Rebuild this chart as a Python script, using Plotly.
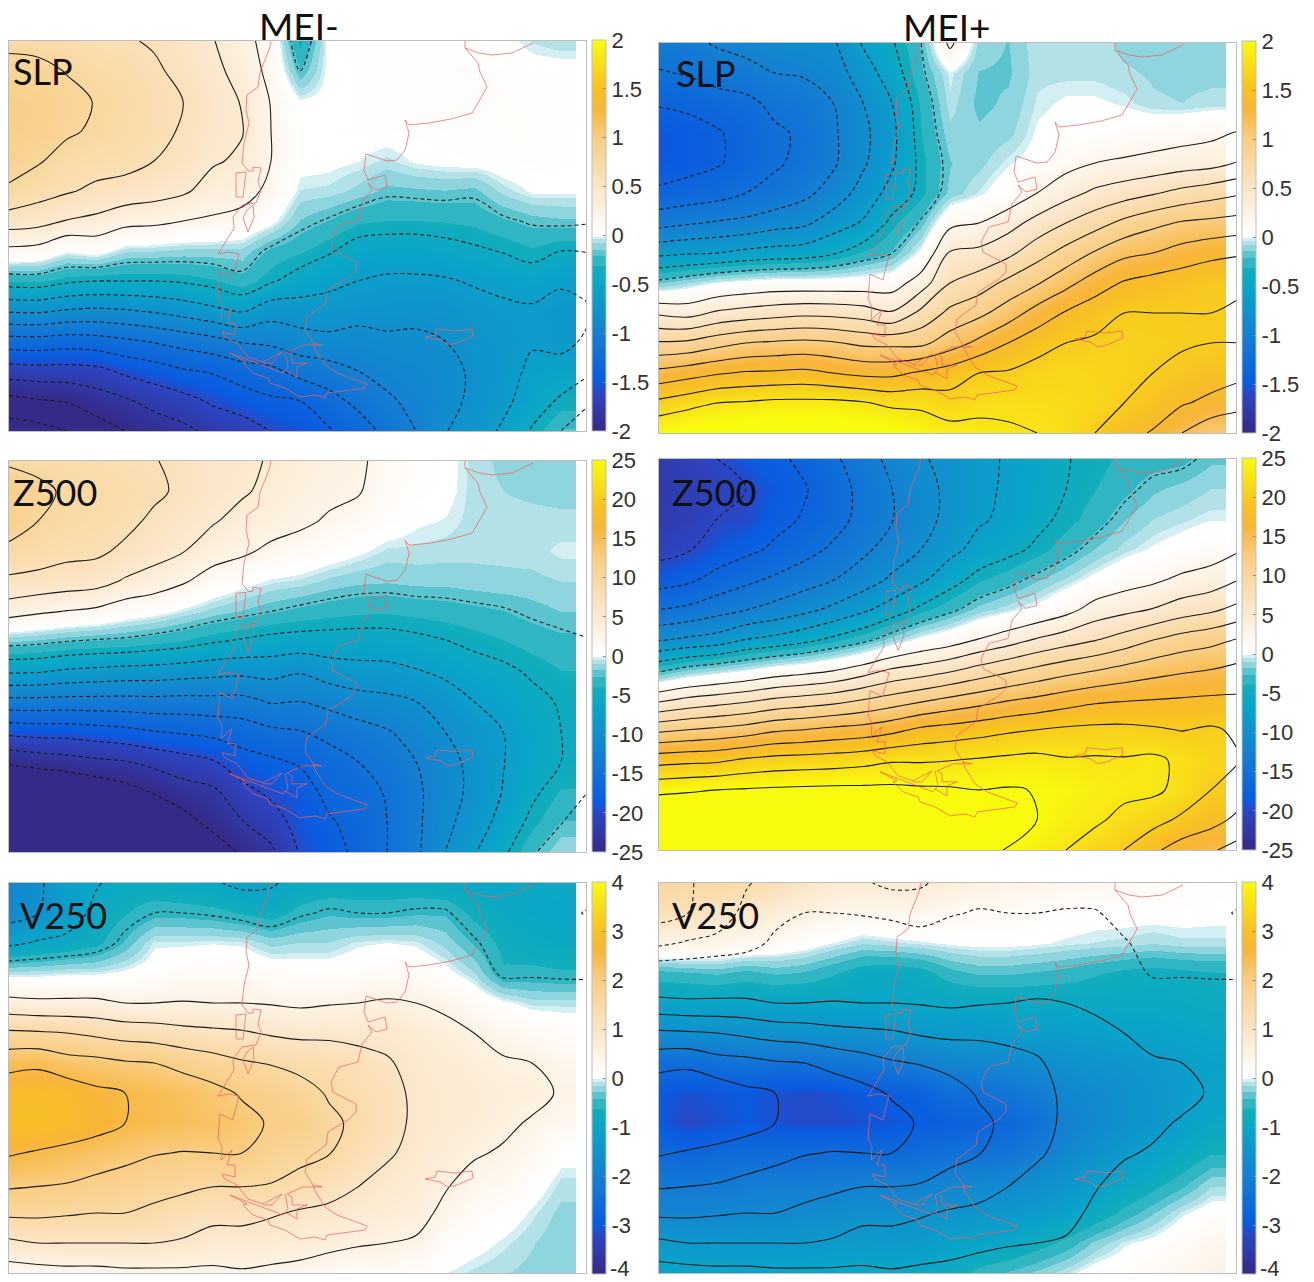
import numpy as np
import plotly.graph_objects as go

# grid positions (map units), columns west to east, rows north to south
grid_x = [9,38,67,96,125,154,183,213,242,271,300,329,358,387,416,445,474,503,532,561,590]
grid_y = [41,71,101,131,161,191,221,251,281,311,341,371,401,431]

slp_minus = [
[.75,.87,.94,.94,.88,.77,.5,.15,-.31,-.78,-1.28,-1.7,-2.07,-2.3],
[.73,.86,.93,.92,.82,.68,.47,.13,-.3,-.77,-1.27,-1.68,-2.02,-2.27],
[.7,.79,.86,.83,.72,.62,.39,0,-.37,-.82,-1.3,-1.68,-1.99,-2.2],
[.65,.73,.79,.77,.68,.56,.35,.05,-.4,-.84,-1.28,-1.66,-1.9,-2.1],
[.62,.7,.74,.72,.67,.52,.27,-.07,-.4,-.82,-1.23,-1.56,-1.83,-2.0],
[.58,.63,.67,.66,.6,.48,.25,-.08,-.4,-.78,-1.18,-1.5,-1.73,-1.93],
[.5,.55,.6,.58,.53,.43,.2,-.1,-.38,-.72,-1.12,-1.42,-1.67,-1.85],
[.41,.45,.48,.47,.42,.32,.17,-.1,-.33,-.65,-1.06,-1.38,-1.57,-1.75],
[.27,.33,.39,.41,.37,.28,.13,-.1,-.25,-.58,-.98,-1.3,-1.5,-1.7],
[.12,.14,.19,.2,.2,.15,.02,-.24,-.38,-.72,-.95,-1.25,-1.43,-1.6],
[-.35,-.2,0,.02,.02,-.04,-.15,-.3,-.48,-.7,-.88,-1.13,-1.4,-1.54],
[.03,.02,.02,.03,.01,-.05,-.22,-.38,-.55,-.69,-.85,-1.08,-1.27,-1.42],
[.04,.03,.03,.03,-.01,-.1,-.3,-.48,-.6,-.72,-.88,-1.0,-1.15,-1.3],
[.04,.04,.04,.03,-.05,-.17,-.32,-.5,-.63,-.72,-.84,-.94,-1.03,-1.15],
[.04,.05,.05,.04,0,-.16,-.32,-.5,-.63,-.74,-.84,-.9,-.95,-1.0],
[.04,.05,.05,.05,.02,-.15,-.31,-.47,-.62,-.73,-.8,-.86,-.86,-.81],
[.03,.05,.05,.05,.03,-.17,-.29,-.43,-.58,-.68,-.74,-.77,-.76,-.7],
[.02,.05,.06,.06,.05,-.06,-.23,-.39,-.55,-.64,-.68,-.68,-.65,-.57],
[-.04,.03,.05,.06,.05,0,-.18,-.33,-.51,-.63,-.62,-.56,-.5,-.38],
[-.07,.03,.05,.05,.04,0,-.16,-.4,-.57,-.68,-.66,-.52,-.37,-.2],
[-.05,.03,.05,.05,.03,0,-.18,-.39,-.53,-.62,-.56,-.43,-.22,-.05],
]

slp_plus = [
[-1.07,-1.22,-1.38,-1.53,-1.52,-1.36,-1.07,-.65,-.15,.37,.82,1.26,1.65,2],
[-1.05,-1.18,-1.36,-1.47,-1.47,-1.32,-1.02,-.62,-.08,.33,.84,1.32,1.72,2.08],
[-.98,-1.1,-1.3,-1.42,-1.42,-1.28,-.98,-.6,0,.43,.93,1.38,1.8,2.12],
[-.92,-1.08,-1.25,-1.33,-1.33,-1.2,-.95,-.55,.04,.48,1.0,1.42,1.82,2.15],
[-.88,-1.0,-1.15,-1.23,-1.22,-1.15,-.88,-.52,.07,.52,1.03,1.43,1.85,2.15],
[-.85,-.98,-1.1,-1.17,-1.16,-1.05,-.84,-.5,.07,.55,1.05,1.45,1.85,2.15],
[-.83,-.9,-1.0,-1.03,-1.03,-.92,-.7,-.42,.07,.54,1.02,1.4,1.85,2.15],
[-.58,-.7,-.8,-.85,-.83,-.72,-.58,-.3,.08,.5,.96,1.35,1.82,2.1],
[-.42,-.5,-.6,-.65,-.63,-.53,-.35,-.2,.1,.42,.95,1.35,1.75,2.05],
[-.2,-.23,-.3,-.32,-.35,-.35,-.18,.02,.3,.65,.95,1.43,1.75,1.95],
[.25,-.02,-.05,-.1,-.15,-.12,.15,.42,.6,.85,1.1,1.5,1.68,1.88],
[-.1,-.15,-.17,-.13,-.1,-.03,.2,.45,.7,.95,1.25,1.6,1.75,1.85],
[-.15,-.16,-.13,-.1,-.02,.06,.32,.55,.85,1.1,1.4,1.62,1.75,1.83],
[-.04,-.05,-.03,0,.03,.2,.47,.72,.98,1.28,1.52,1.68,1.75,1.8],
[-.04,-.05,0,.03,.13,.33,.6,.87,1.14,1.42,1.6,1.7,1.73,1.75],
[-.04,-.05,0,.05,.2,.44,.72,1.02,1.3,1.52,1.63,1.68,1.7,1.6],
[-.1,-.07,-.02,.07,.23,.51,.85,1.15,1.42,1.6,1.65,1.66,1.6,1.48],
[-.1,-.09,-.07,.1,.26,.58,.95,1.2,1.48,1.6,1.63,1.6,1.53,1.38],
[-.1,-.1,-.08,.12,.3,.66,1.02,1.28,1.52,1.6,1.62,1.55,1.42,1.2],
[-.1,-.1,-.06,.15,.33,.72,1.05,1.34,1.57,1.6,1.6,1.5,1.35,1.05],
[-.08,-.08,-.04,.22,.42,.78,1.08,1.38,1.58,1.62,1.6,1.45,1.28,1.0],
]

z500_minus = [
[9.5,12,11.5,9.3,7,3.6,-1.7,-7.2,-13.3,-19.3,-24.6,-29,-33,-35],
[9,10.8,10,8.8,6.7,2.9,-2,-7.3,-13.3,-19,-24,-28.5,-32,-34.5],
[8.8,9.5,9.3,8.2,6.3,2.4,-2.5,-7.9,-13.4,-19,-23.5,-28,-31,-33.5],
[8.3,9,8.8,8,6,2,-2.8,-8.2,-13.4,-18.6,-23,-27,-30,-32.5],
[7.9,8.5,8.2,7,4.7,1,-3,-8.5,-13.4,-18.2,-22.6,-26,-29,-31.5],
[7.6,8,7,6,3.9,.5,-3.5,-8.6,-13.3,-17.6,-21.8,-24.8,-27.5,-30],
[7,7,6,5.1,2.8,-.4,-4,-8.9,-13.4,-17.2,-21,-23.6,-26,-28],
[6,5.8,5.2,3.7,1.3,-1.3,-4.8,-9.2,-13.3,-16.8,-20.2,-23,-24.2,-26.5],
[5.5,5.3,4.2,3,.4,-1.9,-5.3,-9.4,-13.3,-16.3,-18.5,-20.8,-22.6,-24.7],
[4.8,4.4,3.7,1.9,-.3,-2.5,-5.8,-9.2,-12.3,-15.5,-17.9,-19.5,-21.2,-23],
[4,3.7,3,1.4,-.6,-3,-6,-9.8,-12.5,-15.1,-17.2,-18.8,-19,-19.8],
[3.4,3.1,2.2,.7,-1.2,-3.4,-6,-8.8,-11.8,-14.3,-16,-16.7,-17.8,-18.4],
[3,2.7,1.6,.1,-1.6,-3.7,-6,-8.4,-11,-13.5,-15,-16,-16.6,-17],
[1.5,1.3,.7,-.6,-1.7,-3.8,-5.9,-8.3,-10.6,-12.7,-14,-14.8,-15,-15],
[.8,.6,0,-.6,-1.5,-3.5,-5.6,-7.7,-10,-11.5,-12.5,-13,-13,-13],
[.3,.2,-.2,-.7,-1.5,-3.3,-5.1,-7,-8.8,-10,-11,-11,-10.7,-10],
[-.7,-.7,-.7,-.8,-1.3,-3,-4.5,-6,-7.5,-8.7,-9.2,-9.4,-8.7,-7.7],
[-1.2,-1,-.7,-.8,-1.2,-2.7,-4,-5.5,-6.6,-7.5,-7.6,-7.4,-6.7,-5.5],
[-1.5,-1.2,-.7,-.7,-1.2,-2.2,-3.4,-4.7,-5.6,-6.1,-6,-5.5,-4.4,-2.8],
[-1.5,-1.3,-.8,-.3,-1,-1.8,-3,-4,-4.8,-5,-5,-3.8,-2.6,-1],
[-1.5,-1.3,-.8,-.3,-.9,-1.6,-2.6,-3.5,-4,-4.2,-3.5,-2.4,-1.5,-.5],
]

z500_plus = [
[-21.5,-22,-21.7,-20.8,-18.7,-15,-10.3,-3.1,4.4,11.9,19,24.4,28,30],
[-20.8,-21.5,-21.2,-20.2,-18,-14.5,-9.6,-1.8,5.5,12.5,19.3,24.7,28,30],
[-20,-20.8,-20,-19,-16.7,-13.5,-9,-1,6.2,13,19.5,25,28.5,30],
[-18.8,-20,-19.8,-18.1,-15.6,-12.6,-7.5,-.2,6.9,13.6,20.3,25.2,29,30],
[-18,-18.8,-18.2,-17.1,-14.6,-11.7,-6.8,.8,7.8,14.6,20.8,25.4,29,30],
[-17,-17.7,-17.3,-15.9,-13.6,-10.7,-5.8,1.4,8.4,15,21,25.5,29,30],
[-15.5,-16.3,-16,-14.6,-12.6,-9.5,-4.5,2.2,9,15.6,21.2,25.6,29,30],
[-13.5,-14.2,-14.2,-13,-11.3,-8,-3.2,3.6,10,16,21.6,25.6,29,30],
[-11.9,-12.5,-12.6,-11.5,-9.6,-6.4,-1.4,5.2,11,16.8,22.2,25.6,29,30],
[-10.3,-10.8,-10.9,-10,-8,-4.5,.2,6,12,18,22.2,25.4,29,30],
[-9.2,-9.5,-9.3,-8.2,-6,-3,1.2,7,13,18.5,22.4,25.3,28.5,30],
[-8,-8,-7.8,-6.7,-4.2,-1.5,2.6,8.3,13.9,19,22.7,25,27.8,26],
[-7.3,-7.2,-7,-5.7,-3.2,-.6,3.8,9.4,14.8,19.6,23,25.2,27,24.8],
[-6.3,-6,-5.6,-4.6,-2,.3,5.2,10.5,15.5,20,23.2,24.9,25,23.5],
[-5.1,-5,-4.5,-3.2,-.9,1.6,6.3,11.5,16.3,20.4,22.7,24.4,23.5,22.5],
[-4.5,-4,-3.3,-1.8,.3,3.5,7.3,12.3,17,20.6,22.8,23.7,23,21],
[-3.6,-3,-1.9,-.7,1.3,4.3,8.5,13.2,17.3,20.6,22.7,23.2,21.7,20],
[-3.2,-2,-1,0,2,5.1,9.9,14,17.5,20.3,23,23,20.9,18],
[-3,-1.5,-.6,.5,3,6.2,11,14.6,17.7,19.9,22,21.8,19.5,16.3],
[-2,-1,-.2,1.2,3.6,7,11.7,15,17.9,20.3,21,20,18.4,15.3],
[-1.6,-.7,.2,2.3,5,8.3,12.7,15.7,17.9,19.6,20.1,18.7,16.8,14],
]

v250_minus = [
[-1.9,-1.7,-1.1,-.1,.65,1.58,2.35,2.8,2.95,2.55,2.1,1.6,.9,.25],
[-1.6,-1.5,-.95,-.1,.6,1.55,2.4,2.85,2.95,2.45,2.05,1.6,1,.3],
[-1.1,-1.3,-.85,-.05,.6,1.5,2.2,2.8,2.85,2.35,2,1.55,1,.35],
[-1.05,-.85,-.7,-.05,.6,1.4,2.15,2.6,2.7,2.25,1.9,1.5,1,.35],
[-.8,-.65,-.4,.02,.5,1.3,2.05,2.5,2.5,2.15,1.8,1.5,1,.4],
[-.8,-.5,-.05,.1,.5,1.25,2,2.4,2.42,2.03,1.7,1.4,1,.4],
[-.9,-.5,-.05,.2,.52,1.15,1.85,2.3,2.35,1.98,1.65,1.25,.95,.4],
[-.95,-.55,-.03,.2,.5,1.1,1.7,2.15,2.25,2.0,1.55,1.15,.8,.4],
[-1.1,-.65,-.05,.2,.5,1.05,1.55,1.95,2.15,2,1.55,1.15,.8,.45],
[-1.05,-.75,-.2,.15,.47,.95,1.47,1.87,1.95,1.75,1.5,1.05,.75,.4],
[-.85,-.55,-.15,.1,.42,.9,1.35,1.7,1.9,1.65,1.35,.95,.7,.35],
[-.8,-.45,-.15,.1,.47,.9,1.3,1.45,1.6,1.52,1.2,.9,.62,.25],
[-.8,-.5,-.05,.15,.5,.85,1.2,1.3,1.4,1.25,1.03,.8,.55,.15],
[-.8,-.5,-.02,.2,.55,.85,1.05,1.18,1.2,1.07,.85,.7,.5,.2],
[-.8,-.45,-.05,.18,.5,.75,.85,.9,.9,.85,.75,.65,.45,.12],
[-.85,-.45,-.2,.05,.4,.65,.75,.8,.8,.7,.55,.4,.15,-.02],
[-.95,-.7,-.45,-.15,.2,.5,.68,.75,.72,.55,.35,.2,.05,-.1],
[-.95,-.85,-.7,-.6,.03,.35,.55,.65,.6,.45,.3,.1,-.05,-.15],
[-.95,-.95,-.8,-.57,-.1,.25,.5,.65,.45,.3,.1,-.05,-.15,-.2],
[-.9,-.95,-.85,-.6,-.1,.15,.38,.45,.3,.05,-.1,-.2,-.25,-.2],
[-.9,-1.02,-.85,-.6,-.15,.12,.25,.3,.15,0,-.15,-.25,-.25,-.2],
]

v250_plus = [
[1.6,1.2,.45,-.5,-1.0,-1.6,-2.5,-3.0,-3.0,-2.6,-2.2,-1.85,-1.35,-1.0],
[1.5,1.15,.45,-.45,-1,-1.6,-2.5,-3.1,-3.2,-2.7,-2.2,-1.85,-1.35,-1],
[1.5,1,.4,-.4,-1,-1.6,-2.4,-3.05,-3.1,-2.6,-2.2,-1.85,-1.35,-1],
[1.4,.9,.3,-.5,-1,-1.55,-2.35,-3,-3,-2.55,-2.1,-1.8,-1.35,-1],
[1.3,.7,.2,-.4,-1,-1.5,-2.4,-3.1,-3.1,-2.55,-2.1,-1.75,-1.35,-1],
[1,.55,.1,-.45,-1,-1.5,-2.4,-3.15,-3.15,-2.55,-2.1,-1.7,-1.35,-1],
[.8,.4,-.03,-.6,-1,-1.5,-2.3,-3.1,-3.15,-2.5,-2.05,-1.65,-1.3,-.95],
[.8,.3,-.15,-.8,-1,-1.5,-2.2,-3,-3.1,-2.55,-2,-1.6,-1.25,-.95],
[.8,.35,-.1,-.85,-1,-1.4,-2.15,-2.9,-3.05,-2.6,-2,-1.6,-1.3,-.95],
[.8,.35,-.05,-.75,-.95,-1.35,-2,-2.8,-2.95,-2.5,-2,-1.55,-1.25,-.9],
[.65,.25,0,-.5,-.95,-1.3,-1.85,-2.5,-2.85,-2.4,-1.9,-1.45,-1.1,-.8],
[.5,.2,.03,-.4,-.9,-1.3,-1.8,-2.4,-2.75,-2.4,-1.8,-1.4,-1,-.55],
[.45,.2,.03,-.4,-.9,-1.25,-1.75,-2.3,-2.65,-2.3,-1.75,-1.35,-.95,-.4],
[.4,.15,0,-.45,-.9,-1.2,-1.65,-2.1,-2.4,-2.1,-1.6,-1.25,-.75,-.25],
[.35,.1,-.05,-.5,-.9,-1.2,-1.55,-1.85,-2,-1.8,-1.45,-1.1,-.55,-.08],
[.3,.05,-.08,-.6,-.9,-1.15,-1.45,-1.7,-1.8,-1.55,-1.2,-.85,-.25,.1],
[.25,.05,-.1,-.7,-.85,-1.1,-1.4,-1.55,-1.55,-1.3,-1,-.55,-.05,.15],
[.2,.05,-.15,-.75,-.85,-1.1,-1.3,-1.4,-1.4,-1.1,-.75,-.3,.05,.25],
[.15,.05,-.1,-.7,-.85,-1,-1.2,-1.25,-1.15,-.9,-.5,-.05,.2,.35],
[.1,.03,-.1,-.65,-.8,-.95,-1.1,-1.05,-.95,-.65,-.2,.1,.35,.45],
[.1,.03,-.1,-.6,-.75,-.9,-1,-.95,-.85,-.5,-.1,.2,.4,.5],
]

# coastline, map units; None separates the pieces
coast_lon = [271,269,260,258,247,246,249,244,242,248,253,253,261,258,261,256,242,233,234,227,218,228,239,234,233,220,218,222,221,232,227,235,235,222,225,237,248,263,282,272,263,None,
             236,246,243,236,236,None,
             253,254,248,243,247,253,None,
             465,465,479,492,512,533,None,
             465,478,480,487,478,472,451,429,409,405,409,405,397,387,366,364,368,385,387,376,368,372,362,358,339,331,333,356,356,349,328,326,307,305,313,322,303,287,292,292,307,297,297,285,None,
             313,315,325,337,367,365,327,325,315,300,285,270,268,253,243,247,230,262,283,288,285,None,
             425,435,437,455,472,473,457,448,440,425]
coast_lat = [41,50,72,87,95,110,123,143,163,171,171,167,168,182,190,203,205,217,228,239,254,252,254,273,278,272,297,305,318,308,323,323,335,332,337,343,357,362,352,363,363,None,
             173,172,197,197,173,None,
             205,217,232,218,210,205,None,
             41,48,53,55,53,43,None,
             48,63,72,87,103,113,119,123,125,120,133,150,160,161,154,170,180,175,187,190,183,190,202,220,225,240,250,262,270,277,290,303,317,330,343,345,345,352,355,363,363,367,377,370,None,
             343,349,365,373,384,388,393,398,395,397,388,383,378,373,363,362,353,365,373,367,352,None,
             337,335,329,331,329,336,343,345,340,337]

column_titles = ["MEI-", "MEI+"]
slp_ticks = [-2,-1.5,-1,-.5,0,.5,1,1.5,2]
z500_ticks = [-25,-20,-15,-10,-5,0,5,10,15,20,25]
v250_ticks = [-4,-3,-2,-1,0,1,2,3,4]

colorscale = [
    [0.0, "#352a87"], [0.1, "#2c46c4"], [0.125, "#0a5be0"], [0.25, "#1480d2"],
    [0.375, "#0aa6c8"], [0.421, "#12aebb"],
    [0.421, "#2fb6c2"], [0.4465, "#2fb6c2"],
    [0.4465, "#5cc4cf"], [0.4635, "#5cc4cf"],
    [0.4635, "#8ed5de"], [0.48, "#8ed5de"],
    [0.48, "#b2e2e8"], [0.4907, "#b2e2e8"],
    [0.4907, "#d4eff3"], [0.497, "#d4eff3"],
    [0.497, "#ffffff"], [0.505, "#ffffff"],
    [0.625, "#fbe5c6"], [0.75, "#f9cd82"], [0.825, "#f8b53a"], [0.875, "#f8c023"], [1.0, "#f9fb0e"],
]

W, H = 1314, 1282
TICK_SIZE = 22
panels = [
    dict(heat=slp_minus, field=slp_minus, zm=2, ticks=slp_ticks, step=.2, hi=2.0, lo=-2.2, box=(9,586,41,431), bar=(592,40,431), label=(11,71,"SLP")),
    dict(heat=slp_plus, field=slp_plus, zm=2, ticks=slp_ticks, step=.2, hi=1.8, lo=-1.4, box=(659,1236,43,433), bar=(1242,41,433), label=(674,73,"SLP")),
    dict(heat=z500_minus, field=z500_minus, zm=25, ticks=z500_ticks, step=2.5, hi=12.5, lo=-25, box=(9,586,461,852), bar=(592,460,852), label=(11,492,"Z500")),
    dict(heat=z500_plus, field=z500_plus, zm=25, ticks=z500_ticks, step=2.5, hi=25, lo=-20, box=(659,1236,459,850), bar=(1242,458,850), label=(670,492,"Z500")),
    dict(heat=v250_minus, field=v250_minus, zm=4, ticks=v250_ticks, step=.5, hi=2.5, lo=-1.5, box=(9,586,883,1273), bar=(592,882,1274), label=(18,915,"V250")),
    dict(heat=v250_plus, field=v250_minus, zm=4, ticks=v250_ticks, step=.5, hi=2.5, lo=-1.5, box=(659,1236,883,1273), bar=(1242,882,1274), label=(670,915,"V250")),
]

fig = go.Figure()
layout = dict(width=W, height=H, margin=dict(l=0, r=0, t=0, b=0),
              paper_bgcolor="white", plot_bgcolor="white", showlegend=False,
              font=dict(family="Liberation Sans", color="#333"))
annotations = []
BOX = "#bdbdbd"
for i, p in enumerate(panels, start=1):
    xa, ya = f"x{i}", f"y{i}"
    x0, x1, y0, y1 = p["box"]
    layout[f"xaxis{i}"] = dict(domain=[x0/W, x1/W], range=[9, 586], anchor=ya, showgrid=False, zeroline=False,
                               showticklabels=False, ticks="", showline=True, mirror=True, linecolor=BOX, linewidth=1)
    layout[f"yaxis{i}"] = dict(domain=[1-y1/H, 1-y0/H], range=[431, 41], anchor=xa, showgrid=False, zeroline=False,
                               showticklabels=False, ticks="", showline=True, mirror=True, linecolor=BOX, linewidth=1)
    bx, by0, by1 = p["bar"]
    heat = np.array(p["heat"]).T
    field = np.array(p["field"]).T
    # the lowest V250 label would run past the page's bottom edge, so it sits just above it as its own text
    low_label_apart = by1 + TICK_SIZE / 2 + 2 > H
    tick_labels = ["" if (low_label_apart and v == p["ticks"][0]) else f"{v:g}" for v in p["ticks"]]
    fig.add_trace(go.Heatmap(
        x=grid_x[:-1], y=grid_y, z=heat[:, :-1], xaxis=xa, yaxis=ya, zmin=-p["zm"], zmax=p["zm"],
        zsmooth="best", colorscale=colorscale, hoverinfo="skip",
        colorbar=dict(x=bx/W, xanchor="left", y=1-by1/H, yanchor="bottom", len=(by1-by0)/H, lenmode="fraction",
                      thickness=14, thicknessmode="pixels", xpad=0, ypad=0, outlinecolor=BOX, outlinewidth=1,
                      tickmode="array", tickvals=p["ticks"], ticktext=tick_labels,
                      ticklabeloverflow="allow",
                      ticks="inside", ticklen=3, tickcolor="#888",
                      tickfont=dict(size=TICK_SIZE, family="Liberation Sans", color="#333"))))
    if low_label_apart:
        annotations.append(dict(text=f"{p['ticks'][0]:g}", xref="paper", yref="paper", x=(bx+17)/W, y=0,
                                xanchor="left", yanchor="bottom", showarrow=False, borderpad=0,
                                font=dict(size=TICK_SIZE, family="Liberation Sans", color="#333")))
    fig.add_trace(go.Contour(
        x=grid_x, y=grid_y, z=field, xaxis=xa, yaxis=ya, showscale=False, hoverinfo="skip", autocontour=False,
        contours=dict(coloring="none", start=p["step"], end=p["hi"], size=p["step"]),
        line=dict(color="#1c1c1c", width=1.1, smoothing=1.0)))
    fig.add_trace(go.Contour(
        x=grid_x, y=grid_y, z=field, xaxis=xa, yaxis=ya, showscale=False, hoverinfo="skip", autocontour=False,
        contours=dict(coloring="none", start=p["lo"], end=-p["step"], size=p["step"]),
        line=dict(color="#1c1c1c", width=1.1, dash="4px,3px", smoothing=1.0)))
    fig.add_trace(go.Scatter(x=coast_lon, y=coast_lat, xaxis=xa, yaxis=ya, mode="lines", hoverinfo="skip",
                             line=dict(color="rgba(238,95,95,0.72)", width=1), connectgaps=False))
    lx, ly, txt = p["label"]
    annotations.append(dict(text=txt, xref="paper", yref="paper", x=lx/W, y=1-ly/H, xanchor="left", yanchor="middle",
                            showarrow=False, font=dict(family="Lato", size=36, color="#111")))
for txt, cx, cy in zip(column_titles, (299, 947), (26, 27)):
    annotations.append(dict(text=txt, xref="paper", yref="paper", x=cx/W, y=1-cy/H, xanchor="center", yanchor="middle",
                            showarrow=False, font=dict(family="Lato", size=37, color="#111")))
layout["annotations"] = annotations
fig.update_layout(**layout)
fig.write_html("out.html", config={"displayModeBar": False}, post_script="document.body.style.margin='0';")
